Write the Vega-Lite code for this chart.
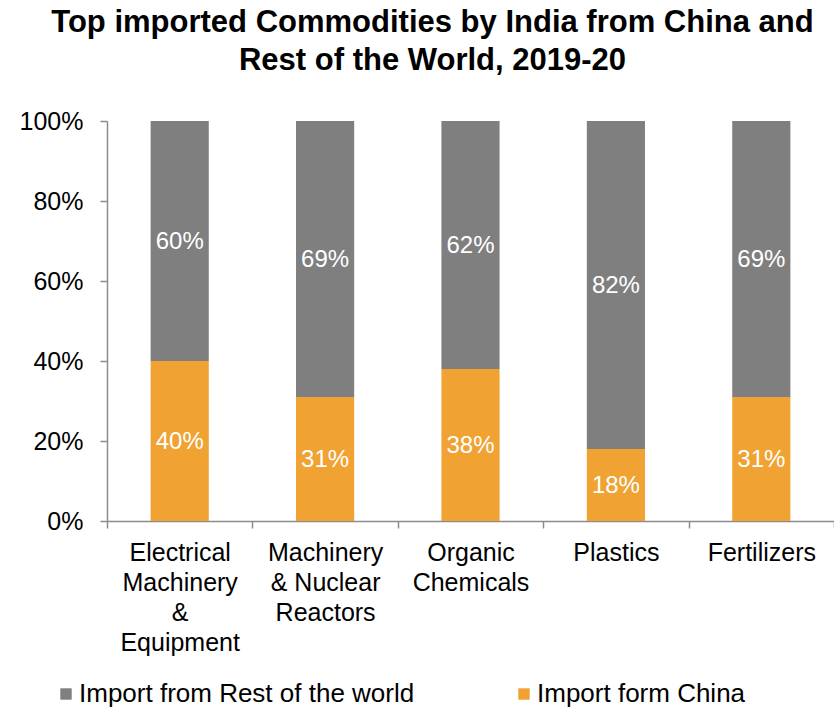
{
  "$schema": "https://vega.github.io/schema/vega-lite/v6.json",
  "width": 727,
  "height": 400,
  "autosize": {"type": "none"},
  "padding": {"left": 107, "top": 121, "right": 0, "bottom": 189},
  "background": "white",
  "title": {
    "text": ["Top imported Commodities by India from China and", "Rest of the World, 2019-20"],
    "font": "Liberation Sans",
    "fontSize": 31,
    "fontWeight": "bold",
    "color": "black",
    "lineHeight": 38,
    "anchor": "middle",
    "frame": "group",
    "dx": -38,
    "offset": 32
  },
  "config": {
    "view": {"stroke": null},
    "font": "Liberation Sans"
  },
  "data": {
    "values": [
      {"commodity": "Electrical|Machinery|&|Equipment", "series": "Import form China", "value": 0.40, "label": "40%", "ord": 1},
      {"commodity": "Electrical|Machinery|&|Equipment", "series": "Import from Rest of the world", "value": 0.60, "label": "60%", "ord": 2},
      {"commodity": "Machinery|& Nuclear|Reactors", "series": "Import form China", "value": 0.31, "label": "31%", "ord": 1},
      {"commodity": "Machinery|& Nuclear|Reactors", "series": "Import from Rest of the world", "value": 0.69, "label": "69%", "ord": 2},
      {"commodity": "Organic|Chemicals", "series": "Import form China", "value": 0.38, "label": "38%", "ord": 1},
      {"commodity": "Organic|Chemicals", "series": "Import from Rest of the world", "value": 0.62, "label": "62%", "ord": 2},
      {"commodity": "Plastics", "series": "Import form China", "value": 0.18, "label": "18%", "ord": 1},
      {"commodity": "Plastics", "series": "Import from Rest of the world", "value": 0.82, "label": "82%", "ord": 2},
      {"commodity": "Fertilizers", "series": "Import form China", "value": 0.31, "label": "31%", "ord": 1},
      {"commodity": "Fertilizers", "series": "Import from Rest of the world", "value": 0.69, "label": "69%", "ord": 2}
    ]
  },
  "encoding": {
    "x": {
      "field": "commodity",
      "type": "nominal",
      "sort": null,
      "scale": {"paddingInner": 0, "paddingOuter": 0},
      "axis": {
        "title": null,
        "labelAngle": 0,
        "labelExpr": "split(datum.label, '|')",
        "labelFont": "Liberation Sans",
        "labelFontSize": 25,
        "labelColor": "black",
        "labelLineHeight": 30,
        "labelPadding": 12,
        "labelLimit": 300,
        "tickBand": "extent",
        "tickSize": 7,
        "tickColor": "#8c8c8c",
        "domainColor": "#8c8c8c",
        "domainWidth": 1.5,
        "tickWidth": 1.5
      }
    },
    "y": {
      "field": "value",
      "type": "quantitative",
      "stack": "zero",
      "scale": {"domain": [0, 1]},
      "axis": {
        "title": null,
        "values": [0, 0.2, 0.4, 0.6, 0.8, 1],
        "format": ".0%",
        "grid": false,
        "labelFont": "Liberation Sans",
        "labelFontSize": 25,
        "labelColor": "black",
        "labelPadding": 17,
        "tickSize": 7,
        "tickColor": "#8c8c8c",
        "domainColor": "#8c8c8c",
        "domainWidth": 1.5,
        "tickWidth": 1.5
      }
    },
    "order": {"field": "ord", "type": "quantitative"}
  },
  "layer": [
    {
      "mark": {"type": "bar", "width": {"band": 0.4}},
      "encoding": {
        "color": {
          "field": "series",
          "type": "nominal",
          "scale": {"domain": ["Import from Rest of the world", "Import form China"], "range": ["#7f7f7f", "#f0a232"]},
          "legend": {
            "title": null,
            "orient": "none",
            "legendX": -54,
            "legendY": 560,
            "direction": "horizontal",
            "columns": 2,
            "symbolType": "square",
            "symbolSize": 130,
            "symbolStrokeWidth": 0,
            "labelFont": "Liberation Sans",
            "labelFontSize": 26,
            "labelColor": "black",
            "labelLimit": 500,
            "labelOffset": 0,
            "columnPadding": 96
          }
        }
      }
    },
    {
      "mark": {"type": "text", "color": "white", "fontSize": 24, "font": "Liberation Sans", "baseline": "middle", "dy": 1},
      "encoding": {
        "y": {"field": "value", "type": "quantitative", "stack": "zero", "bandPosition": 0.5},
        "text": {"field": "label"}
      }
    }
  ]
}
